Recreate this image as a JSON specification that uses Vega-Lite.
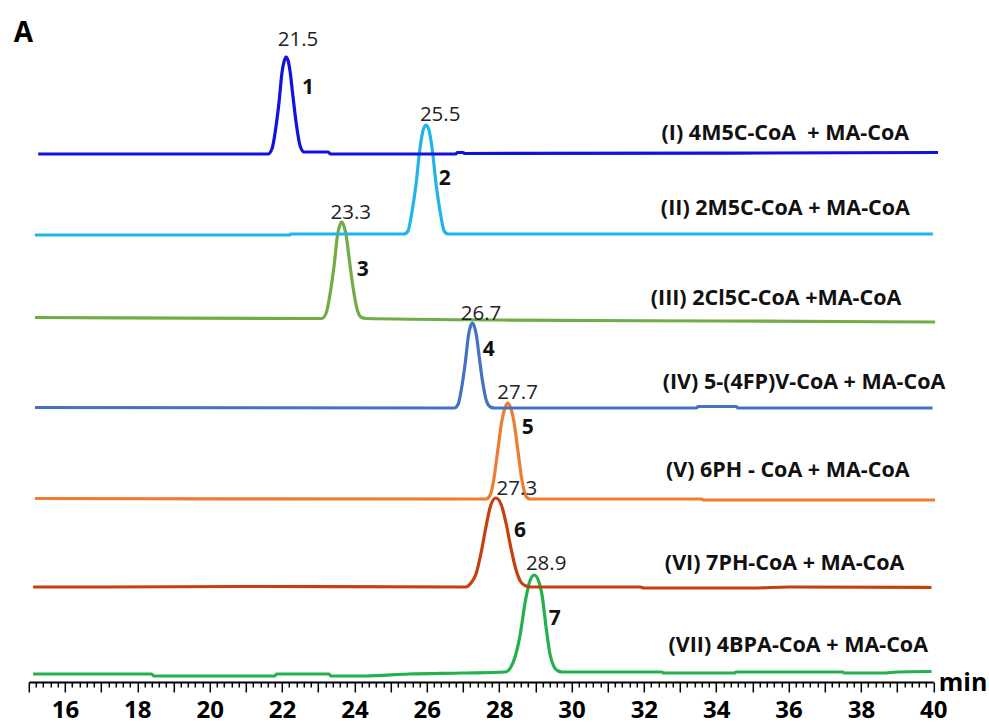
{
  "$schema": "https://vega.github.io/schema/vega-lite/v6.json",
  "width": 904.5,
  "height": 652,
  "autosize": {"type": "none"},
  "padding": {"left": 28.8, "top": 30, "right": 55.7, "bottom": 42},
  "background": "white",
  "config": {"view": {"stroke": null}, "font": "Open Sans"},
  "datasets": {
    "traces": [
      {"trace": "VII", "time": 15.12, "signal": 8},
      {"trace": "VII", "time": 18.40, "signal": 8},
      {"trace": "VII", "time": 18.45, "signal": 6},
      {"trace": "VII", "time": 21.80, "signal": 6},
      {"trace": "VII", "time": 21.85, "signal": 8},
      {"trace": "VII", "time": 23.30, "signal": 8},
      {"trace": "VII", "time": 23.35, "signal": 6},
      {"trace": "VII", "time": 24.30, "signal": 6},
      {"trace": "VII", "time": 25.50, "signal": 8},
      {"trace": "VII", "time": 27.00, "signal": 9},
      {"trace": "VII", "time": 28.17, "signal": 10},
      {"trace": "VII", "time": 28.31, "signal": 14},
      {"trace": "VII", "time": 28.44, "signal": 25},
      {"trace": "VII", "time": 28.58, "signal": 47},
      {"trace": "VII", "time": 28.72, "signal": 80},
      {"trace": "VII", "time": 28.86, "signal": 102},
      {"trace": "VII", "time": 28.97, "signal": 107},
      {"trace": "VII", "time": 29.08, "signal": 102},
      {"trace": "VII", "time": 29.19, "signal": 86},
      {"trace": "VII", "time": 29.30, "signal": 54},
      {"trace": "VII", "time": 29.41, "signal": 27},
      {"trace": "VII", "time": 29.52, "signal": 15},
      {"trace": "VII", "time": 29.63, "signal": 11},
      {"trace": "VII", "time": 29.74, "signal": 10},
      {"trace": "VII", "time": 32.50, "signal": 10},
      {"trace": "VII", "time": 32.55, "signal": 9},
      {"trace": "VII", "time": 34.50, "signal": 9},
      {"trace": "VII", "time": 34.55, "signal": 10},
      {"trace": "VII", "time": 37.50, "signal": 10},
      {"trace": "VII", "time": 37.55, "signal": 9},
      {"trace": "VII", "time": 38.60, "signal": 9},
      {"trace": "VII", "time": 39.00, "signal": 10},
      {"trace": "VII", "time": 39.95, "signal": 10.5},

      {"trace": "VI", "time": 15.12, "signal": 95},
      {"trace": "VI", "time": 17.00, "signal": 95},
      {"trace": "VI", "time": 21.00, "signal": 95.5},
      {"trace": "VI", "time": 27.08, "signal": 95},
      {"trace": "VI", "time": 27.22, "signal": 99},
      {"trace": "VI", "time": 27.36, "signal": 108},
      {"trace": "VI", "time": 27.50, "signal": 129},
      {"trace": "VI", "time": 27.63, "signal": 154},
      {"trace": "VI", "time": 27.77, "signal": 177},
      {"trace": "VI", "time": 27.91, "signal": 184},
      {"trace": "VI", "time": 28.05, "signal": 178},
      {"trace": "VI", "time": 28.19, "signal": 159},
      {"trace": "VI", "time": 28.32, "signal": 135},
      {"trace": "VI", "time": 28.46, "signal": 113},
      {"trace": "VI", "time": 28.60, "signal": 100},
      {"trace": "VI", "time": 28.74, "signal": 96},
      {"trace": "VI", "time": 28.88, "signal": 95},
      {"trace": "VI", "time": 31.90, "signal": 95},
      {"trace": "VI", "time": 32.00, "signal": 94},
      {"trace": "VI", "time": 35.00, "signal": 94},
      {"trace": "VI", "time": 36.00, "signal": 95},
      {"trace": "VI", "time": 39.95, "signal": 94.5},

      {"trace": "V", "time": 15.17, "signal": 183.5},
      {"trace": "V", "time": 27.63, "signal": 183},
      {"trace": "V", "time": 27.74, "signal": 186},
      {"trace": "V", "time": 27.85, "signal": 202},
      {"trace": "V", "time": 27.96, "signal": 231},
      {"trace": "V", "time": 28.07, "signal": 260},
      {"trace": "V", "time": 28.16, "signal": 274},
      {"trace": "V", "time": 28.24, "signal": 279},
      {"trace": "V", "time": 28.32, "signal": 274},
      {"trace": "V", "time": 28.41, "signal": 260},
      {"trace": "V", "time": 28.52, "signal": 231},
      {"trace": "V", "time": 28.63, "signal": 202},
      {"trace": "V", "time": 28.74, "signal": 186},
      {"trace": "V", "time": 28.85, "signal": 183},
      {"trace": "V", "time": 33.60, "signal": 183},
      {"trace": "V", "time": 33.65, "signal": 182},
      {"trace": "V", "time": 40.05, "signal": 182},

      {"trace": "IV", "time": 15.17, "signal": 274.5},
      {"trace": "IV", "time": 26.76, "signal": 274},
      {"trace": "IV", "time": 26.87, "signal": 278},
      {"trace": "IV", "time": 26.98, "signal": 298},
      {"trace": "IV", "time": 27.07, "signal": 321},
      {"trace": "IV", "time": 27.15, "signal": 346},
      {"trace": "IV", "time": 27.21, "signal": 356},
      {"trace": "IV", "time": 27.26, "signal": 359},
      {"trace": "IV", "time": 27.31, "signal": 356},
      {"trace": "IV", "time": 27.37, "signal": 347},
      {"trace": "IV", "time": 27.45, "signal": 325},
      {"trace": "IV", "time": 27.54, "signal": 301},
      {"trace": "IV", "time": 27.65, "signal": 281},
      {"trace": "IV", "time": 27.76, "signal": 275},
      {"trace": "IV", "time": 27.87, "signal": 274},
      {"trace": "IV", "time": 33.45, "signal": 274},
      {"trace": "IV", "time": 33.50, "signal": 275.5},
      {"trace": "IV", "time": 34.55, "signal": 275.5},
      {"trace": "IV", "time": 34.60, "signal": 274},
      {"trace": "IV", "time": 39.98, "signal": 274},

      {"trace": "III", "time": 15.17, "signal": 364.5},
      {"trace": "III", "time": 23.10, "signal": 363.5},
      {"trace": "III", "time": 23.22, "signal": 369},
      {"trace": "III", "time": 23.34, "signal": 391},
      {"trace": "III", "time": 23.44, "signal": 417},
      {"trace": "III", "time": 23.53, "signal": 446},
      {"trace": "III", "time": 23.59, "signal": 456},
      {"trace": "III", "time": 23.65, "signal": 460},
      {"trace": "III", "time": 23.71, "signal": 456},
      {"trace": "III", "time": 23.77, "signal": 447},
      {"trace": "III", "time": 23.86, "signal": 422},
      {"trace": "III", "time": 23.96, "signal": 395},
      {"trace": "III", "time": 24.08, "signal": 372},
      {"trace": "III", "time": 24.20, "signal": 364.5},
      {"trace": "III", "time": 24.32, "signal": 363.5},
      {"trace": "III", "time": 28.00, "signal": 362},
      {"trace": "III", "time": 34.00, "signal": 361},
      {"trace": "III", "time": 40.05, "signal": 360},

      {"trace": "II", "time": 15.17, "signal": 447},
      {"trace": "II", "time": 22.20, "signal": 447},
      {"trace": "II", "time": 22.25, "signal": 448},
      {"trace": "II", "time": 25.37, "signal": 448},
      {"trace": "II", "time": 25.48, "signal": 451},
      {"trace": "II", "time": 25.59, "signal": 470},
      {"trace": "II", "time": 25.70, "signal": 497},
      {"trace": "II", "time": 25.81, "signal": 533},
      {"trace": "II", "time": 25.90, "signal": 552},
      {"trace": "II", "time": 25.98, "signal": 557},
      {"trace": "II", "time": 26.06, "signal": 552},
      {"trace": "II", "time": 26.15, "signal": 533},
      {"trace": "II", "time": 26.26, "signal": 497},
      {"trace": "II", "time": 26.37, "signal": 470},
      {"trace": "II", "time": 26.48, "signal": 451},
      {"trace": "II", "time": 26.59, "signal": 448},
      {"trace": "II", "time": 39.99, "signal": 448},

      {"trace": "I", "time": 15.26, "signal": 528},
      {"trace": "I", "time": 21.61, "signal": 528},
      {"trace": "I", "time": 21.72, "signal": 533},
      {"trace": "I", "time": 21.83, "signal": 555},
      {"trace": "I", "time": 21.92, "signal": 581},
      {"trace": "I", "time": 22.00, "signal": 610},
      {"trace": "I", "time": 22.06, "signal": 621},
      {"trace": "I", "time": 22.11, "signal": 625},
      {"trace": "I", "time": 22.17, "signal": 621},
      {"trace": "I", "time": 22.22, "signal": 611},
      {"trace": "I", "time": 22.30, "signal": 586},
      {"trace": "I", "time": 22.39, "signal": 559},
      {"trace": "I", "time": 22.50, "signal": 536},
      {"trace": "I", "time": 22.61, "signal": 530},
      {"trace": "I", "time": 22.72, "signal": 530},
      {"trace": "I", "time": 23.28, "signal": 530},
      {"trace": "I", "time": 23.33, "signal": 528},
      {"trace": "I", "time": 26.80, "signal": 528},
      {"trace": "I", "time": 26.85, "signal": 529.5},
      {"trace": "I", "time": 27.00, "signal": 529.5},
      {"trace": "I", "time": 27.05, "signal": 528.5},
      {"trace": "I", "time": 40.13, "signal": 529.5}
    ],
    "peaks": [
      {"time": 22.44, "signal": 636, "text": "21.5"},
      {"time": 26.37, "signal": 561, "text": "25.5"},
      {"time": 23.90, "signal": 463, "text": "23.3"},
      {"time": 27.50, "signal": 362, "text": "26.7"},
      {"time": 28.51, "signal": 283, "text": "27.7"},
      {"time": 28.49, "signal": 187, "text": "27.3"},
      {"time": 29.30, "signal": 112, "text": "28.9"}
    ],
    "numbers": [
      {"time": 22.72, "signal": 588, "text": "1"},
      {"time": 26.50, "signal": 497, "text": "2"},
      {"time": 24.23, "signal": 406, "text": "3"},
      {"time": 27.71, "signal": 326, "text": "4"},
      {"time": 28.79, "signal": 248, "text": "5"},
      {"time": 28.58, "signal": 145, "text": "6"},
      {"time": 29.54, "signal": 57, "text": "7"}
    ],
    "labels": [
      {"time": 32.49, "signal": 542, "text": "(I) 4M5C-CoA\u00a0 + MA-CoA"},
      {"time": 32.47, "signal": 467, "text": "(II) 2M5C-CoA + MA-CoA"},
      {"time": 32.19, "signal": 377, "text": "(III) 2Cl5C-CoA +MA-CoA"},
      {"time": 32.52, "signal": 293, "text": "(IV) 5-(4FP)V-CoA + MA-CoA"},
      {"time": 32.61, "signal": 205, "text": "(V) 6PH - CoA + MA-CoA"},
      {"time": 32.58, "signal": 112, "text": "(VI) 7PH-CoA + MA-CoA"},
      {"time": 32.68, "signal": 30, "text": "(VII) 4BPA-CoA + MA-CoA"}
    ],
    "panel": [
      {"time": 14.85, "signal": 640, "text": "A"}
    ]
  },
  "layer": [
    {
      "data": {"name": "traces"},
      "mark": {"type": "line", "strokeWidth": 3.2, "interpolate": "monotone"},
      "encoding": {
        "x": {
          "field": "time",
          "type": "quantitative",
          "scale": {"domain": [15, 40], "nice": false, "zero": false},
          "axis": {
            "title": "min",
            "titleX": 909.5,
            "titleY": 8,
            "titleAlign": "left",
            "titleBaseline": "alphabetic",
            "titleAngle": 0,
            "titleFontSize": 25,
            "titleFontWeight": "bold",
            "titleColor": "black",
            "titleFont": "Open Sans",
            "tickCount": 125,
            "grid": false,
            "domainColor": "black",
            "domainWidth": 2,
            "tickColor": "black",
            "tickWidth": 1.5,
            "tickSize": {"condition": {"test": "abs(datum.value - round(datum.value)) < 0.01", "value": 10}, "value": 5},
            "labelExpr": "abs(datum.value / 2 - round(datum.value / 2)) < 0.01 && datum.value > 15.5 ? format(datum.value, 'd') : ''",
            "labelOverlap": false,
            "labelFlush": false,
            "labelBound": false,
            "labelFont": "Open Sans",
            "labelFontSize": 24,
            "labelFontWeight": "bold",
            "labelColor": "black",
            "labelPadding": 6
          }
        },
        "y": {
          "field": "signal",
          "type": "quantitative",
          "scale": {"domain": [0, 652], "nice": false, "zero": false},
          "axis": null
        },
        "color": {
          "field": "trace",
          "type": "nominal",
          "scale": {
            "domain": ["I", "II", "III", "IV", "V", "VI", "VII"],
            "range": ["#1212dd", "#1fb4ea", "#70ad47", "#4472c4", "#ed7d31", "#c5400e", "#22b14c"]
          },
          "legend": null
        }
      }
    },
    {
      "data": {"name": "peaks"},
      "mark": {"type": "text", "font": "Open Sans", "fontSize": 20.5, "align": "center", "baseline": "alphabetic", "color": "#222222"},
      "encoding": {
        "x": {"field": "time", "type": "quantitative"},
        "y": {"field": "signal", "type": "quantitative"},
        "text": {"field": "text"}
      }
    },
    {
      "data": {"name": "numbers"},
      "mark": {"type": "text", "font": "Open Sans", "fontSize": 21, "fontWeight": "bold", "align": "center", "baseline": "alphabetic", "color": "#111111"},
      "encoding": {
        "x": {"field": "time", "type": "quantitative"},
        "y": {"field": "signal", "type": "quantitative"},
        "text": {"field": "text"}
      }
    },
    {
      "data": {"name": "labels"},
      "mark": {"type": "text", "font": "Open Sans", "fontSize": 21.5, "fontWeight": "bold", "align": "left", "baseline": "alphabetic", "color": "#111111"},
      "encoding": {
        "x": {"field": "time", "type": "quantitative"},
        "y": {"field": "signal", "type": "quantitative"},
        "text": {"field": "text"}
      }
    },
    {
      "data": {"name": "panel"},
      "mark": {"type": "text", "font": "Open Sans", "fontSize": 28, "fontWeight": "bold", "align": "center", "baseline": "alphabetic", "color": "black"},
      "encoding": {
        "x": {"field": "time", "type": "quantitative"},
        "y": {"field": "signal", "type": "quantitative"},
        "text": {"field": "text"}
      }
    }
  ]
}
